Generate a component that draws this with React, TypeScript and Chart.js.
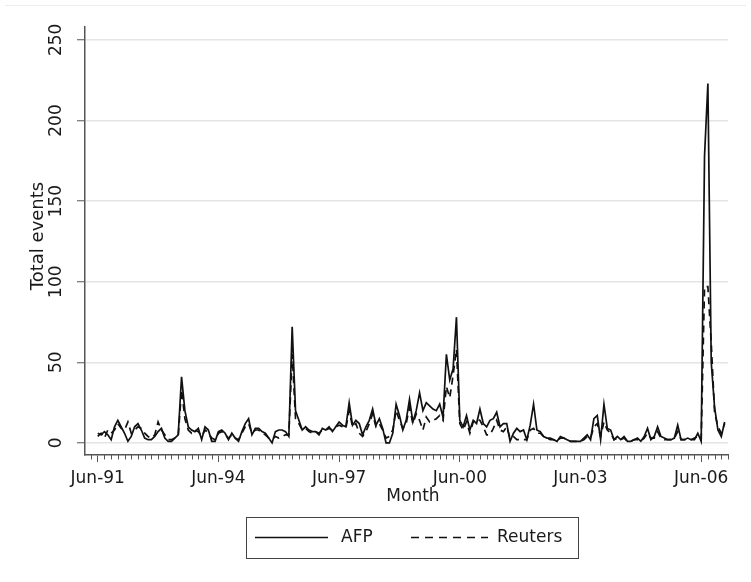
import React, { useEffect, useRef } from 'react';
import { Chart, registerables } from 'chart.js';

Chart.register(...registerables);

// Monthly totals, first value = Jun-1991
const afp = [
  6, 5, 7, 5, 2, 10, 14, 10, 6, 1, 4, 10, 12, 8, 3, 2, 2, 4, 7, 9,
  3, 1, 1, 3, 5, 41, 20, 10, 8, 7, 9, 2, 10, 8, 1, 1, 7, 8, 6, 2,
  6, 3, 1, 7, 12, 15, 5, 9, 9, 7, 6, 3, 0, 7, 8, 8, 7, 4, 72, 20,
  14, 8, 10, 8, 7, 7, 5, 9, 8, 10, 7, 10, 13, 11, 10, 25, 11, 14, 12, 5,
  10, 14, 21, 11, 15, 9, 0, 0, 6, 24, 17, 8, 14, 27, 13, 20, 31, 20, 25, 23,
  21, 20, 24, 16, 55, 39, 46, 78, 14, 10, 17, 8, 14, 12, 21, 12, 10, 14, 15, 19,
  10, 12, 12, 1, 6, 9, 7, 8, 2, 11, 24, 8, 7, 4, 3, 3, 2, 1, 4, 3,
  2, 1, 1, 1, 1, 3, 5, 2, 15, 17, 2, 24, 9, 8, 2, 4, 2, 4, 1, 1,
  2, 3, 1, 4, 9, 2, 4, 10, 4, 3, 2, 2, 3, 11, 2, 2, 3, 2, 2, 6,
  1, 178, 223, 50, 22, 8, 4, 13,
];

const reuters = [
  4, 6, 3, 8, 6, 8, 12, 9, 8, 13, 6, 8, 10, 9, 6, 4, 3, 5, 13, 8,
  5, 2, 2, 3, 4, 33, 15, 8, 6, 8, 7, 4, 8, 6, 3, 2, 6, 7, 5, 3,
  5, 3, 2, 6, 10, 12, 6, 8, 8, 6, 5, 3, 2, 4, 3, 4, 5, 5, 55, 15,
  12, 8, 9, 7, 6, 7, 6, 8, 8, 9, 8, 10, 11, 10, 9, 20, 10, 12, 6, 4,
  7, 12, 18, 10, 12, 8, 3, 4, 8, 20, 14, 9, 12, 22, 12, 18, 14, 8, 16, 13,
  14, 15, 17, 14, 35, 28, 42, 58, 12, 8, 13, 6, 13, 15, 14, 10, 5, 5, 9, 14,
  8, 7, 10, 3, 4, 2, 2, 2, 2, 8, 9, 6, 6, 4, 3, 2, 2, 1, 3, 3,
  2, 1, 1, 1, 1, 2, 4, 3, 10, 12, 4, 13, 8, 6, 2, 3, 2, 3, 1, 1,
  2, 2, 1, 3, 6, 3, 3, 7, 3, 2, 2, 2, 3, 7, 2, 2, 2, 2, 3, 4,
  2, 97, 97, 62, 19, 10, 6, 12,
];

const seriesNames = ['AFP', 'Reuters'];
const xTickMonths = [0, 36, 72, 108, 144, 180];
const xTickLabels = ['Jun-91', 'Jun-94', 'Jun-97', 'Jun-00', 'Jun-03', 'Jun-06'];
const yTicks = [0, 50, 100, 150, 200, 250];
const xTitle = 'Month';
const yTitle = 'Total events';

const FONT = '"DejaVu Sans", sans-serif';
const INK = '#1a1a1a';
const AXIS = '#555555';

const decor = {
  id: 'decor',
  afterDraw(chart: any) {
    const { ctx, chartArea, scales } = chart;
    const xs = scales.x;
    const ys = scales.y;
    ctx.save();
    // faint outer frame line
    ctx.strokeStyle = '#ececec';
    ctx.lineWidth = 1;
    ctx.beginPath();
    ctx.moveTo(5, 5.5);
    ctx.lineTo(746, 5.5);
    ctx.stroke();

    // minor ticks on x axis
    ctx.strokeStyle = AXIS;
    ctx.lineWidth = 1;
    for (let m = Math.ceil(xs.min / 2) * 2; m <= xs.max; m += 2) {
      if (xTickMonths.includes(m)) continue;
      const px = Math.round(xs.getPixelForValue(m)) + 0.5;
      ctx.beginPath();
      ctx.moveTo(px, chartArea.bottom);
      ctx.lineTo(px, chartArea.bottom + 4.5);
      ctx.stroke();
    }

    // y tick labels (rotated)
    ctx.fillStyle = INK;
    ctx.font = `17px ${FONT}`;
    ctx.textAlign = 'center';
    ctx.textBaseline = 'middle';
    yTicks.forEach((v) => {
      const py = ys.getPixelForValue(v);
      ctx.save();
      ctx.translate(57, py);
      ctx.rotate(-Math.PI / 2);
      ctx.fillText(String(v), 0, 0);
      ctx.restore();
    });

    // axis titles
    ctx.save();
    ctx.translate(38, 236);
    ctx.rotate(-Math.PI / 2);
    ctx.font = `18px ${FONT}`;
    ctx.fillText(yTitle, 0, 0);
    ctx.restore();
    ctx.fillText(xTitle, 413, 497);

    // legend
    const bx = 246.5, by = 517.5, bw = 332, bh = 41;
    ctx.strokeStyle = '#444444';
    ctx.lineWidth = 1;
    ctx.strokeRect(bx, by, bw, bh);
    const ly = 537.5;
    const ds = chart.data.datasets;
    ctx.strokeStyle = '#111111';
    ctx.lineWidth = 1.7;
    ctx.setLineDash([]);
    ctx.beginPath();
    ctx.moveTo(255, ly);
    ctx.lineTo(328, ly);
    ctx.stroke();
    ctx.setLineDash([8, 6]);
    ctx.beginPath();
    ctx.moveTo(411, ly);
    ctx.lineTo(488, ly);
    ctx.stroke();
    ctx.setLineDash([]);
    ctx.textAlign = 'left';
    ctx.fillText(ds[0].label, 341, ly);
    ctx.fillText(ds[1].label, 497, ly);
    ctx.restore();
  },
};

export default function App() {
  const ref = useRef<HTMLCanvasElement | null>(null);

  useEffect(() => {
    document.body.style.margin = '0';
    const canvas = ref.current;
    if (!canvas) return;
    const months = afp.map((_, i) => i);
    const chart = new Chart(canvas, {
      type: 'line',
      data: {
        datasets: [
          {
            label: seriesNames[0],
            data: months.map((m, i) => ({ x: m, y: afp[i] })),
            borderColor: '#111111',
            borderWidth: 1.7,
            pointRadius: 0,
            tension: 0,
            fill: false,
          },
          {
            label: seriesNames[1],
            data: months.map((m, i) => ({ x: m, y: reuters[i] })),
            borderColor: '#111111',
            borderWidth: 1.7,
            borderDash: [7, 5],
            pointRadius: 0,
            tension: 0,
            fill: false,
          },
        ],
      },
      options: {
        responsive: false,
        animation: false,
        events: [],
        layout: { padding: { top: 27, right: 23, bottom: 0, left: 0 } },
        plugins: {
          legend: { display: false },
          tooltip: { enabled: false },
          title: { display: false },
        },
        scales: {
          x: {
            type: 'linear',
            min: -3.8,
            max: 188,
            afterBuildTicks: (s: any) => {
              s.ticks = xTickMonths.map((v) => ({ value: v }));
            },
            afterFit: (s: any) => {
              s.height = 127;
            },
            grid: {
              drawOnChartArea: false,
              drawTicks: true,
              tickLength: 7,
              color: AXIS,
              lineWidth: 1,
            },
            border: { display: true, color: AXIS, width: 1.5 },
            ticks: {
              autoSkip: false,
              maxRotation: 0,
              minRotation: 0,
              padding: 6,
              color: INK,
              font: { family: FONT, size: 17 },
              callback: (v: any) => {
                const k = xTickMonths.indexOf(Number(v));
                return k >= 0 ? xTickLabels[k] : '';
              },
            },
            title: { display: false },
          },
          y: {
            type: 'linear',
            min: -7.5,
            max: 258,
            afterBuildTicks: (s: any) => {
              s.ticks = yTicks.map((v) => ({ value: v }));
            },
            afterFit: (s: any) => {
              s.width = 85;
            },
            grid: {
              color: '#e4e4e4',
              lineWidth: 1.5,
              drawTicks: true,
              tickLength: 8,
              tickColor: AXIS,
              tickWidth: 1,
            },
            border: { display: true, color: AXIS, width: 1.5 },
            ticks: { display: false },
            title: { display: false },
          },
        },
      },
      plugins: [decor],
    });
    return () => chart.destroy();
  }, []);

  return (
    <div style={{ position: 'fixed', left: 0, top: 0, width: 751, height: 582, background: '#fff' }}>
      <canvas ref={ref} width={751} height={582} style={{ display: 'block', width: 751, height: 582 }} />
    </div>
  );
}
